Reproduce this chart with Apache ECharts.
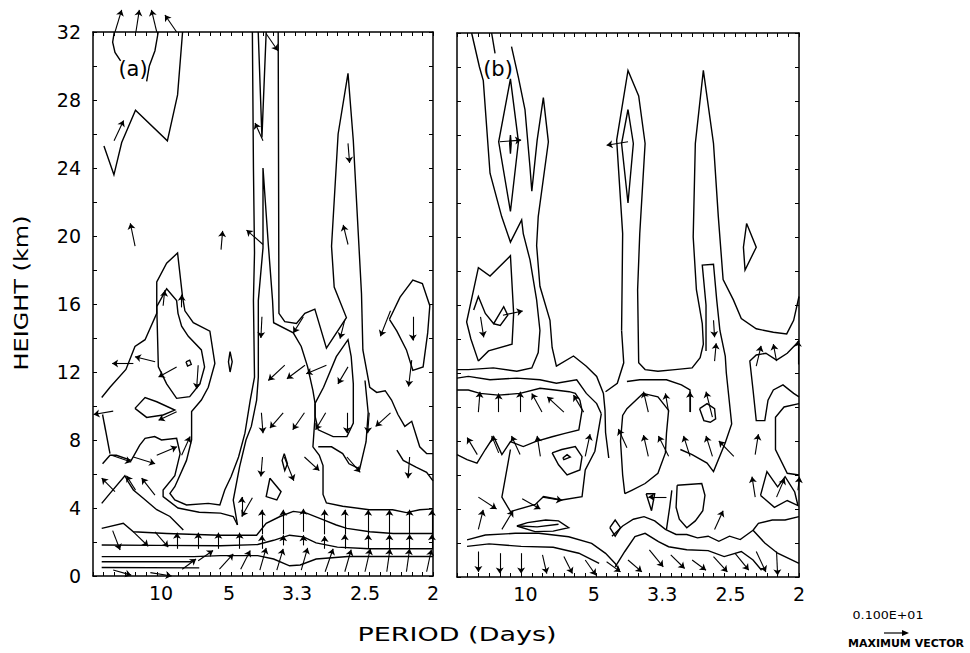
<!DOCTYPE html>
<html><head><meta charset="utf-8">
<script src="https://cdn.jsdelivr.net/npm/echarts@6/dist/echarts.min.js"></script>
<style>html,body{margin:0;padding:0;background:#fff}#c{width:970px;height:653px}</style>
</head><body><div id="c"></div>
<script>
// x in frequency-index units k (frequency = k/64 cycles per day), y = height in km
const xTickPos = [6.4, 12.8, 19.2, 25.6, 32];
const xTickLabels = ['10', '5', '3.3', '2.5', '2'];
const yLabelStep = 4;

// ---------- panel (a) contours ----------
const contoursA = [
  [[2.0,32],[1.85,31.4],[2.07,30.8],[2.6,30.3]],
  [[5.05,29.1],[5.3,30.0],[5.83,30.9],[6.14,32]],
  [[1.03,25.3],[1.97,23.6],[2.7,25.5],[4.0,27.4],[7.0,25.6],[7.96,28.3],[8.43,32]],
  [[15.55,32],[15.9,25.8],[16.3,32]],
  [[0.82,10.5],[1.6,11.1],[3.1,12.15],[3.95,13.5],[4.9,13.9],[6.0,15.45],[6.0,17.3],[6.93,18.4],[7.96,19.0],[8.43,16.4],[8.65,15.6],[9.44,14.9],[11.0,14.4],[11.47,12.5],[10.85,11.1],[10.2,10.35],[9.28,9.67],[9.28,8.0],[8.8,6.8],[7.7,5.25],[7.24,4.86],[7.7,4.47],[8.8,4.18],[10.85,4.27],[11.94,4.18],[12.4,5.06],[13.0,5.85],[13.7,7.0],[14.3,8.4],[14.8,10.35],[15.2,11.7],[15.1,16.2],[15.2,19],[15.1,24],[15.0,32]],
  [[6.0,15.85],[6.15,12.3],[6.93,11.3],[7.87,10.45],[9.1,10.55],[10.06,11.3],[10.5,12.3],[10.2,13.3],[8.97,14.1],[8.34,14.7],[8.0,15.45],[7.87,16.2],[6.93,16.9],[6.0,15.85]],
  [[8.75,12.6],[9.1,12.7],[9.25,12.45],[8.9,12.35],[8.75,12.6]],
  [[12.9,13.2],[13.1,12.6],[12.9,12.0],[12.75,12.6],[12.9,13.2]],
  [[3.95,9.86],[4.9,10.5],[6.0,10.25],[7.7,9.76],[6.6,9.47],[5.05,9.33],[3.95,9.86]],
  [[0.9,9.5],[1.6,7.2]],
  [[0.9,6.6],[1.6,7.1],[2.2,7.1],[3.6,6.8],[4.4,7.7],[4.9,8.1],[5.8,8.2],[6.45,8.0],[7.87,8.1],[8.2,7.2],[7.7,5.9],[6.6,5.06],[6.6,4.67],[8.0,4.0],[10.0,3.75],[12.0,3.7],[13.2,3.5],[13.6,3.0]],
  [[0.82,4.27],[1.6,4.86],[3.0,5.9],[3.3,5.55],[3.8,5.06],[4.73,4.57],[6.0,3.9],[7.24,3.5],[8.5,2.7]],
  [[0.82,2.8],[2.85,3.1],[3.8,2.6],[6.93,2.5],[11.94,2.4],[15.4,2.4],[16.3,3.1],[17.6,3.5],[18.85,3.8],[20.1,3.7],[21.7,3.3],[22.9,3.0],[23.9,2.8],[26.05,2.6],[28.25,2.5],[32,2.5]],
  [[0.82,1.82],[6,1.8],[12,1.78],[15.5,1.85],[17,2.1],[18.5,2.4],[19.8,2.3],[21,1.95],[23,1.7],[26,1.6],[32,1.6]],
  [[0.82,1.14],[6,1.14],[9.5,1.14],[12,1.2],[15.5,1.2],[17,1.0],[18.5,0.6],[19.5,0.65],[21,1.0],[24,1.15],[32,1.15]],
  [[0.82,0.84],[9.3,0.84]],
  [[0.82,0.5],[10.0,0.48]],
  [[13.6,3.0],[13.2,4.47],[13.8,6.43],[14.4,8.0],[14.9,8.8],[15.4,10.35],[15.56,11.7],[15.56,16.2],[16.0,19.3],[16.0,24],[16.5,19.5],[16.9,16.2],[17.0,14.9],[18.85,14.3],[19.6,13.5],[20.2,12.3],[20.7,10.9],[20.9,10.15],[20.9,9.4],[20.7,7.6],[21.3,7.1],[21.65,6.5],[21.65,4.8],[21.97,4.3],[23.5,4.1],[26,3.9],[28.2,3.9],[29.5,3.73],[30.75,3.9],[32,3.95]],
  [[17.43,32],[17.5,15.45],[18.05,14.96],[19.15,14.86],[19.94,15.45],[20.88,15.7],[21.97,13.4],[23.85,15.2],[22.7,17],[22.45,19.4],[23.07,26.0],[24.0,29.57],[24.5,25.6],[25.27,16.6],[25.4,13.3],[26.05,11.1],[26.7,10.8],[27.5,10.9],[28.1,10.35],[28.7,9.5],[29.35,8.8],[30.0,9.1],[30.75,7.6],[31.4,7.2],[32,7.2]],
  [[20.9,10.15],[21.7,11.1],[22.9,12.9],[24.0,13.9],[24.3,12.9],[24.5,11.3],[24.5,9.0],[23.9,8.2],[22.6,8.2],[21.2,8.6],[20.9,9.4],[20.9,10.15]],
  [[16.65,5.75],[16.3,4.67],[17.3,4.47],[17.7,4.96],[16.65,5.75]],
  [[18.0,7.2],[17.8,6.8],[18.05,6.2],[18.3,6.6],[18.0,7.2]],
  [[27.9,15.1],[28.9,16.4],[30.1,17.4],[31.0,17.2],[31.7,15.9],[31.5,14.3],[31.07,12.3],[30.1,12.1],[29.5,13.3],[28.6,14.4],[27.9,15.1]],
  [[21.2,7.6],[22.45,7.6],[23.5,7.2],[24.1,6.6],[25.1,6.3],[25.7,7.9],[25.9,9.6],[25.6,11.5]],
  [[28.6,7.4],[29.2,6.8],[30.4,6.4],[31.4,6.1],[32,5.6]]
];

// ---------- panel (a) vectors: [k, h, dk, dh] ----------
const arrowsA = [
  [2.07,32,0.63,1.3],[4.04,32,0.32,1.3],[6.0,32,-0.5,1.3],[7.87,32,-1.1,1.0],
  [1.98,25.6,0.9,1.2],[3.96,19.4,-0.45,1.35],[12.05,19.2,0.15,1.1],[16.0,19.5,-1.55,0.85],
  [24.0,19.5,-0.45,1.15],[24.0,25.45,0.15,-1.15],[16.3,31.9,1.1,-1.0],[16.0,25.6,-0.75,1.05],
  [6.6,15.9,0.15,0.9],[8.35,15.8,0,0.75],
  [3.8,12.5,-2.0,0],[5.85,12.6,-1.9,0.3],[7.87,12.3,-1.7,-0.6],[9.9,12.4,-0.15,-1.4],
  [7.87,9.66,-1.7,-0.5],[1.9,9.7,-1.85,-0.2],
  [1.75,7.1,1.85,-0.4],[3.8,7.0,2.05,-0.4],[6.0,7.1,1.9,0.5],[8.34,7.1,0.8,1.1],
  [2.07,4.96,-1.25,0.8],[4.0,5.05,-0.85,0.85],[5.83,4.76,-1.25,1.0],
  [14.0,3.5,0,1.15],[15.0,4.6,-1.0,-1.1],
  [15.9,15.25,-0.1,-1.25],[19.8,15.25,-0.95,-0.95],[23.7,15.06,-0.45,-1.1],[28.0,15.6,-0.95,-1.5],[30.1,15.25,0,-1.4],
  [18.05,12.4,-1.55,-0.9],[19.95,12.4,-1.7,-0.8],[21.97,12.4,-1.9,-0.5],[24.0,12.3,-0.95,-1.0],[30.0,12.7,-0.3,-1.55],
  [15.85,9.6,0.15,-1.2],[17.9,9.6,-1.25,-0.9],[19.9,9.6,-1.1,-1.0],[21.9,9.6,-0.95,-1.0],[23.9,9.6,0,-1.2],[26.0,9.6,-0.15,-1.2],[28.0,9.6,-1.4,-0.8],
  [15.95,7.0,-0.15,-1.15],[18.0,7.0,0.9,-1.4],[19.9,7.0,1.4,-0.8],[23.9,7.0,1.25,-0.9],[29.8,7.0,-0.15,-1.25],
  [15.9,2.45,0,1.45],[17.9,2.45,0,1.45],[19.8,2.6,0,1.35],[21.8,2.45,0,1.45],[23.7,2.45,0,1.45],[25.9,2.45,0,1.45],[27.9,2.45,0,1.45],[29.8,2.45,0,1.45],[31.9,2.45,0,1.45],
  [1.85,2.67,0.7,-1.14],[3.8,2.6,1.4,-0.85],[5.83,2.6,1.25,-0.9],
  [7.9,1.6,0,0.95],[9.9,1.6,0,0.95],[11.8,1.6,0,0.95],[13.8,1.6,0,0.95],
  [15.9,1.6,0,0.8],[17.9,1.8,0,0.6],[19.8,1.8,0,0.6],[21.8,1.6,0,0.75],[23.7,1.6,0,0.85],[25.9,1.6,0,0.85],[27.9,1.6,0,0.85],[29.8,1.6,0,0.85],[31.9,1.6,0,0.85],
  [1.9,0.35,1.7,-0.3],[5.4,0.2,2.0,-0.2],[8.4,0.4,1.3,0.6],[9.9,0.9,1.4,0.6],[11.9,0.4,1.3,0.9],[13.9,0.4,0.9,1.1],
  [15.7,0.35,0.6,1.3],[17.3,0.35,0.6,1.25],[19.6,0.35,0.6,1.3],[21.85,0.25,0.75,1.35],[23.7,0.25,0.6,1.3],[25.6,0.25,0.5,1.35],[27.65,0.25,0.3,1.35],[29.5,0.25,0.3,1.35],[31.4,0.25,0.45,1.3]
];

// ---------- panel (b) contours ----------
const contoursB = [
  [[1.37,32],[2.1,30],[2.46,29.2],[3.09,23.75],[4.18,21.2],[5.0,19.7],[6.05,21.0],[6.2,20.2],[6.83,18.65],[7.45,16.3],[7.76,14.5],[7.6,13.2],[7.0,12.3],[5.6,12.1],[3.4,12.3],[1.06,12.2],[0,12.2]],
  [[3.24,32],[3.56,30.8]],
  [[5.1,31.2],[5.74,29.4],[6.36,27.5],[6.83,24.1],[7.0,22.7],[7.5,25.7],[8.08,28.2],[8.55,25.6],[7.6,21.2],[7.45,19.5],[7.76,17.1],[8.7,15.1],[8.9,13.5],[9.3,12.4],[10.9,13.0],[12.1,12.4],[13.07,11.8],[13.7,10.8],[13.85,9.8],[13.9,8.5],[14.2,7.0]],
  [[5.0,29.3],[3.9,25.6],[5.0,21.5],[5.75,25.6],[5.0,29.3]],
  [[5.0,26],[5.07,25.5],[5.0,24.9],[4.93,25.5],[5.0,26]],
  [[15.4,14.5],[15.5,20.2],[14.94,25.7],[16.0,29.8],[17.0,28.3],[17.6,25.5],[17.1,20.2],[16.9,16.9],[17.0,12.6],[17.6,12.2],[18.8,12.1],[20.4,12.2],[22.0,12.3],[22.75,12.9],[23.05,13.7],[22.95,14.9],[22.4,16.9],[22.1,20],[22.3,25.5],[23.05,29.8],[24.0,25.5],[24.45,21.2],[24.9,17.5],[25.86,16.3],[26.6,15.2],[28.0,14.6],[29.6,14.4],[30.85,14.3],[31.5,15.1],[32,16.5]],
  [[16.0,27.5],[15.4,25.5],[16.0,22.0],[16.5,25.5],[16.0,27.5]],
  [[15.4,14.5],[15.6,12.6],[15.0,11.4],[13.9,10.9]],
  [[23.3,13.3],[23.3,16],[22.95,18.35],[24.0,18.4],[24.3,16.3],[24.6,14.5],[25.1,13],[25.2,12.0],[25.7,9.0],[25.1,7.9],[24.0,6.2],[23.4,6.7],[22.0,7.2],[20.9,7.5]],
  [[27.1,20.8],[28.0,19.4],[26.95,18.05],[26.8,19.4],[27.1,20.8]],
  [[2.0,12.7],[1.3,14.0],[0.9,15.0],[2.0,18.2],[3.09,17.7],[5.0,18.9],[5.3,15.5],[5.15,13.7],[2.95,13.3],[2.0,12.7]],
  [[1.56,15.7],[2.0,16.5],[2.65,15.5],[3.43,14.9],[4.37,15.9],[4.75,15.4],[4.05,14.8],[3.43,14.9]],
  [[0,11.7],[1.06,11.8],[3.09,11.6],[5.6,11.7],[7.76,11.6],[9.3,11.4],[11.2,11.6],[12.1,10.8],[13.07,10.2],[13.5,9.6]],
  [[0,11.0],[1.06,11.0],[2.15,10.8],[3.87,10.7],[5.9,10.8],[7.77,11.1],[9.17,11.0],[10.5,10.9],[11.07,10.8],[11.5,10.4],[11.7,9.8],[11.4,8.65],[10.1,8.45],[8.9,8.25],[7.33,7.96],[6.2,7.67],[5.0,7.96],[4.2,7.2],[3.43,8.25],[2.65,7.5],[1.87,6.7],[0.94,6.9],[0,7.2]],
  [[8.9,7.3],[9.8,7.5],[11.07,7.67],[11.7,7.08],[11.5,6.3],[10.3,6.0],[9.5,6.6],[8.9,7.3]],
  [[9.9,7.0],[10.3,7.2],[10.6,7.05],[10.0,6.9],[9.9,7.0]],
  [[5.0,7.5],[4.2,4.7],[5.0,3.85],[7.33,4.27],[8.1,4.73],[9.8,4.53],[11.7,4.73],[12.0,6.3],[12.9,7.4],[13.5,9.6]],
  [[5.6,3.0],[6.6,3.2],[8.3,3.35],[9.5,3.3],[10.45,2.9],[9.0,2.7],[7.3,2.67],[5.6,3.0]],
  [[5.9,3.0],[7.5,2.95],[9.5,3.1]],
  [[14.3,2.9],[14.8,3.35],[15.3,2.9],[14.8,2.4],[14.3,2.9]],
  [[15.7,4.9],[15.5,6],[15.3,8],[15.5,9.5],[15.9,9.9],[17.4,10.8],[18.8,10.6],[19.8,9.8],[19.6,8.45],[19.5,7.3],[18.8,6.1],[17.6,5.5],[16.35,5.1],[15.7,4.9]],
  [[22.7,9.9],[23.4,10.2],[24.1,9.9],[24.2,9.3],[23.7,9.1],[23.1,9.2],[22.7,9.9]],
  [[20.6,5.4],[22.9,5.5],[23.2,4.8],[23.0,3.9],[22.3,3.3],[21.5,2.9],[20.8,3.4],[20.5,4.1],[20.6,5.4]],
  [[17.7,4.9],[18.5,4.9],[18.2,3.9],[17.7,4.9]],
  [[20.1,5.1],[19.9,4.1],[19.6,2.8]],
  [[15.9,11.5],[17.1,11.6],[19.6,11.6],[21.0,11.3],[21.8,11.0],[21.8,9.7]],
  [[32,13.9],[31.8,13.75],[30.9,13.16],[29.9,12.76],[28.9,13.16],[28.0,13.06],[27.4,12.7],[27.7,11.0],[28.0,9.2],[28.8,9.2],[29.1,10.4],[29.6,11.0],[30.5,11.3],[31.5,10.8],[32,10.6]],
  [[32,10.2],[30.6,10.0],[29.8,9.4],[29.8,7.5],[30.9,6.1],[32,6.0]],
  [[28.4,4.8],[29.0,6.2],[30.0,5.3],[30.7,5.9],[31.6,5.0],[31.9,4.2],[30.9,4.5],[29.7,4.1],[28.4,4.8]],
  [[27.7,2.75],[28.2,3.16],[29.5,3.35],[30.7,3.35],[32,3.55]],
  [[27.7,2.75],[28.8,2.0],[30.0,1.4],[32,0.8]],
  [[0.94,2.18],[2.65,2.47],[5.45,2.57],[7.65,2.57],[10.45,2.37],[12.6,1.98],[13.9,1.39],[14.8,0.8],[15.2,0.4]],
  [[0.94,1.8],[3,1.95],[6,1.8],[9,1.75],[11.4,1.4],[13.3,0.8]],
  [[14.8,0.6],[15.7,1.5],[16.65,2.37],[17.6,2.57],[18.85,2.08],[19.8,1.78],[21.5,1.6],[23.5,1.55],[25,1.2],[26.6,1.5],[27.7,1.0],[28.5,0.4]],
  [[14.5,2.4],[15.5,3.0],[16.5,3.4],[17.5,3.55],[18.5,3.3],[19.5,2.8],[20.5,2.5],[21.5,2.5],[22.5,2.3],[23.5,2.4],[24.5,2.1],[25.5,2.4],[26.5,2.2],[27.7,2.75]]
];

// ---------- panel (b) vectors ----------
const arrowsB = [
  [4.0,25.6,2.0,0.1],[16.0,25.6,-2.0,-0.2],
  [4.3,15.4,1.85,0.25],[2.2,15.3,0.3,-1.2],
  [24.0,15.1,0.1,-1.0],[24.1,12.7,0.15,1.05],
  [28.0,12.4,0.45,1.2],[29.9,12.7,-0.3,1.0],[31.9,12.5,0,1.4],
  [2.0,9.7,0.15,1.2],[3.9,9.7,0,1.1],[5.9,9.7,0,1.2],[7.95,9.7,-0.95,1.1],[10.0,9.7,-1.55,0.9],[11.85,9.7,-0.95,1.0],
  [17.9,9.7,-0.45,1.2],[19.8,9.7,-0.3,1.1],[21.8,9.7,0,1.2],[23.9,9.4,-0.6,1.5],
  [1.9,7.2,-0.95,1.0],[3.9,7.3,-0.65,1.0],[5.9,7.2,-0.8,1.1],[7.8,7.1,-0.3,1.2],[12.0,7.1,0.45,1.3],[15.9,7.6,-0.8,1.1],
  [17.9,7.1,-0.45,1.25],[19.8,7.1,-0.95,1.2],[21.8,7.1,-0.6,1.2],[23.9,7.1,-0.6,1.2],[25.9,7.1,-1.4,0.9],[27.9,7.2,0.3,1.2],
  [2.0,4.7,1.7,-0.7],[6.1,4.6,1.7,-0.6],[8.0,4.7,1.85,-0.2],[19.6,4.7,-1.7,0],
  [27.9,4.7,-0.3,1.2],[29.9,4.7,0.75,1.1],[31.9,5.1,0.15,0.8],
  [2.0,2.8,0.45,1.15],[4.2,2.8,1.05,1.1],[24.1,2.8,0.8,1.1],
  [2.0,1.5,0,-1.2],[4.0,1.4,0,-1.2],[6.0,1.4,0,-1.2],[8.0,1.3,0.4,-1.1],[10.0,1.2,0.8,-1.0],[12.0,1.0,1.0,-0.9],[14.0,0.9,1.3,-0.6],
  [16.0,1.0,1.3,-0.7],[18.0,1.6,1.3,-1.0],[20.0,1.3,1.3,-0.8],[22.0,1.0,1.3,-0.6],[24.0,1.2,1.3,-0.9],[26.0,1.4,1.3,-1.0],[28.0,1.5,0.9,-1.2],[29.9,1.5,0.1,-1.4]
];

const FONT = 'DejaVu Sans';
const BLACK = '#000';

function fmtX(v) {
  for (let i = 0; i < xTickPos.length; i++) if (Math.abs(xTickPos[i] - v) < 0.01) return xTickLabels[i];
  return '';
}
function xAxes(g) {
  const common = { gridIndex: g, type: 'value', min: 0, max: 32, splitLine: { show: false } };
  return [
    Object.assign({}, common, { position: 'bottom', interval: 6.4,
      axisLine: { show: true, onZero: false, lineStyle: { color: BLACK, width: 1.5 } },
      axisTick: { show: false },
      axisLabel: { formatter: fmtX, color: BLACK, fontFamily: FONT, fontSize: 19, margin: 7 } }),
    Object.assign({}, common, { position: 'bottom', interval: 1,
      axisLine: { show: false, onZero: false },
      axisTick: { show: true, inside: true, length: 4, lineStyle: { color: BLACK, width: 1 } },
      axisLabel: { show: false } }),
    Object.assign({}, common, { position: 'top', interval: 1,
      axisLine: { show: true, onZero: false, lineStyle: { color: BLACK, width: 1.5 } },
      axisTick: { show: true, inside: true, length: 4, lineStyle: { color: BLACK, width: 1 } },
      axisLabel: { show: false } })
  ];
}
function yAxes(g, labels) {
  const common = { gridIndex: g, type: 'value', min: 0, max: 32, interval: 2, splitLine: { show: false },
    axisTick: { show: true, inside: true, length: 4, lineStyle: { color: BLACK, width: 1 } } };
  return [
    Object.assign({}, common, { position: 'left',
      axisLine: { show: true, onZero: false, lineStyle: { color: BLACK, width: 1.5 } },
      axisLabel: { show: labels, color: BLACK, fontFamily: FONT, fontSize: 19, margin: 12,
        formatter: v => (Math.round(v) % yLabelStep === 0 ? String(Math.round(v)) : '') } }),
    Object.assign({}, common, { position: 'right',
      axisLine: { show: true, onZero: false, lineStyle: { color: BLACK, width: 1.5 } },
      axisLabel: { show: false } })
  ];
}
function contourSeries(list, xi, yi) {
  return { type: 'lines', coordinateSystem: 'cartesian2d', xAxisIndex: xi, yAxisIndex: yi,
    polyline: true, silent: true, clip: false, symbol: 'none',
    lineStyle: { color: BLACK, width: 1.4, opacity: 1 },
    data: list.map(c => ({ coords: c })) };
}
function arrowSeries(list, xi, yi) {
  return { type: 'lines', coordinateSystem: 'cartesian2d', xAxisIndex: xi, yAxisIndex: yi,
    silent: true, clip: false, symbol: ['none', 'arrow'], symbolSize: 6,
    lineStyle: { color: BLACK, width: 1.1, opacity: 1 },
    data: list.map(a => ({ coords: [[a[0], a[1]], [a[0] + a[2], a[1] + a[3]]] })) };
}

const chart = echarts.init(document.getElementById('c'), null, { renderer: 'svg' });
chart.setOption({
  backgroundColor: '#fff',
  animation: false,
  grid: [
    { left: 93, top: 32, width: 340, height: 544 },
    { left: 457, top: 33, width: 342, height: 544 }
  ],
  xAxis: xAxes(0).concat(xAxes(1)),
  yAxis: yAxes(0, true).concat(yAxes(1, false)),
  series: [
    contourSeries(contoursA, 0, 0),
    arrowSeries(arrowsA, 0, 0),
    contourSeries(contoursB, 3, 2),
    arrowSeries(arrowsB, 3, 2)
  ],
  graphic: { elements: [
    { type: 'text', x: 133, y: 69, style: { text: '(a)', fill: BLACK, font: '21px ' + FONT, align: 'center', verticalAlign: 'middle', textAlign: 'center', textVerticalAlign: 'middle' } },
    { type: 'text', x: 498, y: 69, style: { text: '(b)', fill: BLACK, font: '21px ' + FONT, align: 'center', verticalAlign: 'middle', textAlign: 'center', textVerticalAlign: 'middle' } },
    { type: 'text', x: 21, y: 293, rotation: Math.PI / 2, scaleX: 1.2, style: { text: 'HEIGHT (km)', fill: BLACK, font: '20px ' + FONT, align: 'center', verticalAlign: 'middle', textAlign: 'center', textVerticalAlign: 'middle' } },
    { type: 'text', x: 457, y: 634, scaleX: 1.35, style: { text: 'PERIOD (Days)', fill: BLACK, font: '20px ' + FONT, align: 'center', verticalAlign: 'middle', textAlign: 'center', textVerticalAlign: 'middle' } },
    { type: 'text', x: 888, y: 615, scaleX: 1.15, style: { text: '0.100E+01', fill: BLACK, font: '11px ' + FONT, align: 'center', verticalAlign: 'middle', textAlign: 'center', textVerticalAlign: 'middle' } },
    { type: 'text', x: 906, y: 643, style: { text: 'MAXIMUM VECTOR', fill: BLACK, font: 'bold 11px ' + FONT, align: 'center', verticalAlign: 'middle', textAlign: 'center', textVerticalAlign: 'middle' } },
    { type: 'line', shape: { x1: 884, y1: 633, x2: 904, y2: 633 }, style: { stroke: BLACK, lineWidth: 1.2 } },
    { type: 'polygon', shape: { points: [[902, 630], [909, 633], [902, 636]] }, style: { fill: BLACK } }
  ] }
});
</script></body></html>
